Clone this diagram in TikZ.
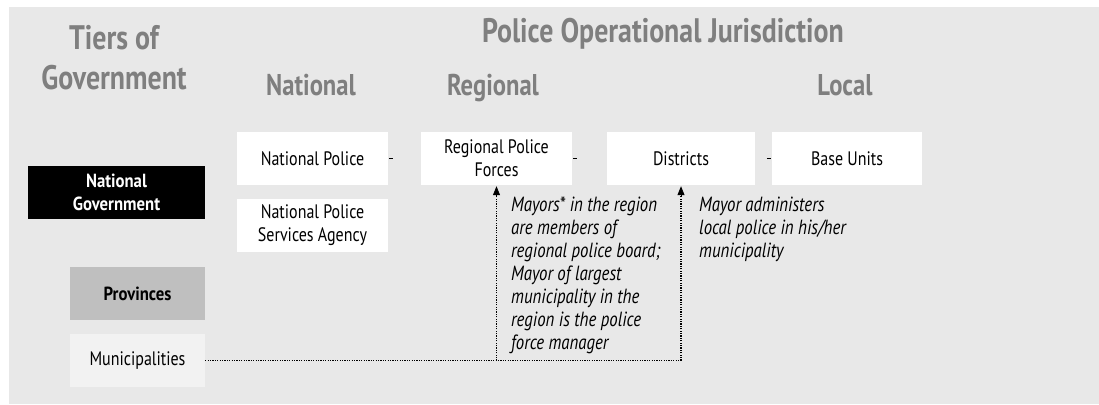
\documentclass[tikz,border=0pt]{standalone}
\usepackage{fontspec}
\setmainfont{PT Sans}[FakeStretch=0.82]
\newfontfamily\boldbox{PT Sans}[FakeStretch=0.88]
\usetikzlibrary{arrows.meta}
\definecolor{bgc}{HTML}{E8E8E8}
\definecolor{headc}{HTML}{7F7F7F}
\definecolor{provc}{HTML}{BFBFBF}
\definecolor{munc}{HTML}{F2F2F2}
\tikzset{
  head/.style={text=headc, font=\fontsize{34}{40}\selectfont\bfseries, inner sep=0, anchor=base},
  subhead/.style={head, font=\fontsize{30}{36}\selectfont\bfseries},
  box/.style={fill=white, inner sep=0, align=center, font=\fontsize{19.5}{23}\selectfont},
  boldtext/.style={font=\boldbox\fontsize{19}{23}\selectfont\bfseries},
  note/.style={inner sep=0, align=left, anchor=north west, font=\fontsize{20.5}{23}\selectfont\itshape},
  dotline/.style={line width=1.2pt, dash pattern=on 1.2pt off 1.2pt},
  tip/.style={-{Triangle[width=7pt,length=9pt]}, line width=0.8pt, shorten >=1pt},
  stub/.style={line width=1pt}
}
\begin{document}
\begin{tikzpicture}[x=1pt,y=-1pt]
\useasboundingbox (0,0) rectangle (1099,404);
\fill[bgc] (9,7) rectangle (1099,404);
% headings
\node[head] (tiers1) at (114,50) {Tiers of};
\node[head] (tiers2) at (114,89) {Government};
\node[head] (poj) at (663,43) {Police Operational Jurisdiction};
\node[subhead] (hnat) at (311,95) {National};
\node[subhead] (hreg) at (493,95) {Regional};
\node[subhead] (hloc) at (845,95) {Local};
% tiers of government
\node[box, boldtext, fill=black, text=white, minimum width=177pt, minimum height=53pt] (ng) at (116.5,192.5) {National\\Government};
\node[box, boldtext, fill=provc, minimum width=135pt, minimum height=53pt] (prov) at (137.5,293.5) {Provinces};
\node[box, fill=munc, minimum width=135pt, minimum height=53pt] (mun) at (137.5,360.5) {Municipalities};
% police boxes
\node[box, minimum width=151pt, minimum height=53pt] (np) at (312.5,158.5) {National Police};
\node[box, minimum width=151pt, minimum height=53pt] (npsa) at (312.5,225.5) {National Police\\Services Agency};
\node[box, minimum width=151pt, minimum height=53pt] (rpf) at (496.5,158.5) {Regional Police\\Forces};
\node[box, minimum width=148pt, minimum height=53pt] (dis) at (681,158.5) {Districts};
\node[box, minimum width=150pt, minimum height=53pt] (bu) at (847,158.5) {Base Units};
% stubs
\draw[stub] ([xshift=1pt]np.east) -- ++(4,0);
\draw[stub] ([xshift=1pt]rpf.east) -- ++(4,0);
\draw[stub] ([xshift=-5pt]bu.west) -- ++(4,0);
% dotted connectors
\draw[dotline] (mun.east) -- (mun.east -| dis.south);
\draw[dotline] (mun.east -| dis.south) -- ([yshift=-9pt]dis.south);
\draw[dotline] (mun.east -| rpf.south) -- ([yshift=-9pt]rpf.south);
\draw[tip] ([yshift=-10pt]dis.south) -- (dis.south);
\draw[tip] ([yshift=-10pt]rpf.south) -- (rpf.south);
% notes
\node[note] (n1) at (511,197) {Mayors* in the region\\are members of\\regional police board;\\Mayor of largest\\municipality in the\\region is the police\\force manager};
\node[note] (n2) at (699,197) {Mayor administers\\local police in his/her\\municipality};
\end{tikzpicture}
\end{document}
